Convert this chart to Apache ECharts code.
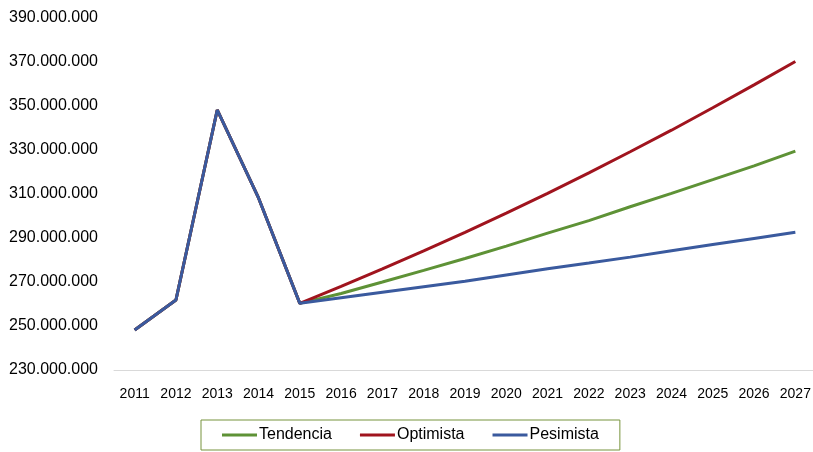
<!DOCTYPE html>
<html>
<head>
<meta charset="utf-8">
<script src="https://cdn.jsdelivr.net/npm/echarts@6/dist/echarts.min.js"></script>
<style>
html,body{margin:0;padding:0;background:#fff;overflow:hidden;}
#chart{width:816px;height:452px;}
</style>
</head>
<body>
<div id="chart"></div>
<script>
// Categories (years)
const years = ['2011','2012','2013','2014','2015','2016','2017','2018','2019','2020','2021','2022','2023','2024','2025','2026','2027'];
// Historical values 2011-2015 (millions)
const historico = [248.2, 261.8, 348.2, 308.2, 260.3];
// Forecast values 2016-2027 (millions)
const tendencia = [264.8, 270.0, 275.3, 280.7, 286.3, 292.2, 297.9, 304.2, 310.3, 316.5, 322.8, 329.5];
const optimista = [268.0, 276.0, 284.2, 292.6, 301.3, 310.3, 319.6, 329.2, 339.0, 349.2, 359.6, 370.2];
const pesimista = [262.8, 265.3, 267.8, 270.3, 273.2, 276.0, 278.6, 281.3, 284.2, 287.0, 289.8, 292.6];
// Y axis range (units)
const yMin = 230000000, yMax = 390000000, yStep = 20000000;

const toUnits = arr => arr.map(v => Math.round(v * 1000000));
const fmt = v => String(Math.round(v)).replace(/\B(?=(\d{3})+(?!\d))/g, '.');

const chart = echarts.init(document.getElementById('chart'), null, {renderer: 'canvas'});
const mk = (name, color, fc) => ({
  name: name,
  type: 'line',
  symbol: 'none',
  smooth: false,
  data: toUnits(historico.concat(fc)),
  lineStyle: {color: color, width: 3},
  itemStyle: {color: color},
  emphasis: {disabled: true}
});
chart.setOption({
  animation: false,
  backgroundColor: '#ffffff',
  textStyle: {fontFamily: 'Liberation Sans, Arial, sans-serif'},
  grid: {left: 114, right: 0, top: 18, bottom: 82, containLabel: false},
  legend: {
    left: 201, top: 420,
    padding: [7, 21, 7, 21],
    borderColor: '#77933C', borderWidth: 1,
    icon: 'rect',
    itemWidth: 35, itemHeight: 3, itemGap: 28,
    textStyle: {fontSize: 16, color: '#000', fontFamily: 'Liberation Sans, Arial, sans-serif', padding: [0, 0, 0, -3]},
    data: ['Tendencia', 'Optimista', 'Pesimista']
  },
  xAxis: {
    type: 'category',
    data: years,
    boundaryGap: true,
    axisLine: {show: true, lineStyle: {color: '#D9D9D9', width: 1}},
    axisTick: {show: false},
    axisLabel: {interval: 0, margin: 17, fontSize: 14, color: '#000', fontFamily: 'Liberation Sans, Arial, sans-serif'},
    splitLine: {show: false}
  },
  yAxis: {
    type: 'value',
    min: yMin, max: yMax, interval: yStep,
    axisLine: {show: false},
    axisTick: {show: false},
    splitLine: {show: false},
    axisLabel: {margin: 16, fontSize: 16, color: '#000', formatter: fmt}
  },
  series: [
    mk('Tendencia', '#5E9236', tendencia),
    mk('Optimista', '#A0141E', optimista),
    mk('Pesimista', '#3A5A9E', pesimista)
  ]
});
</script>
</body>
</html>
